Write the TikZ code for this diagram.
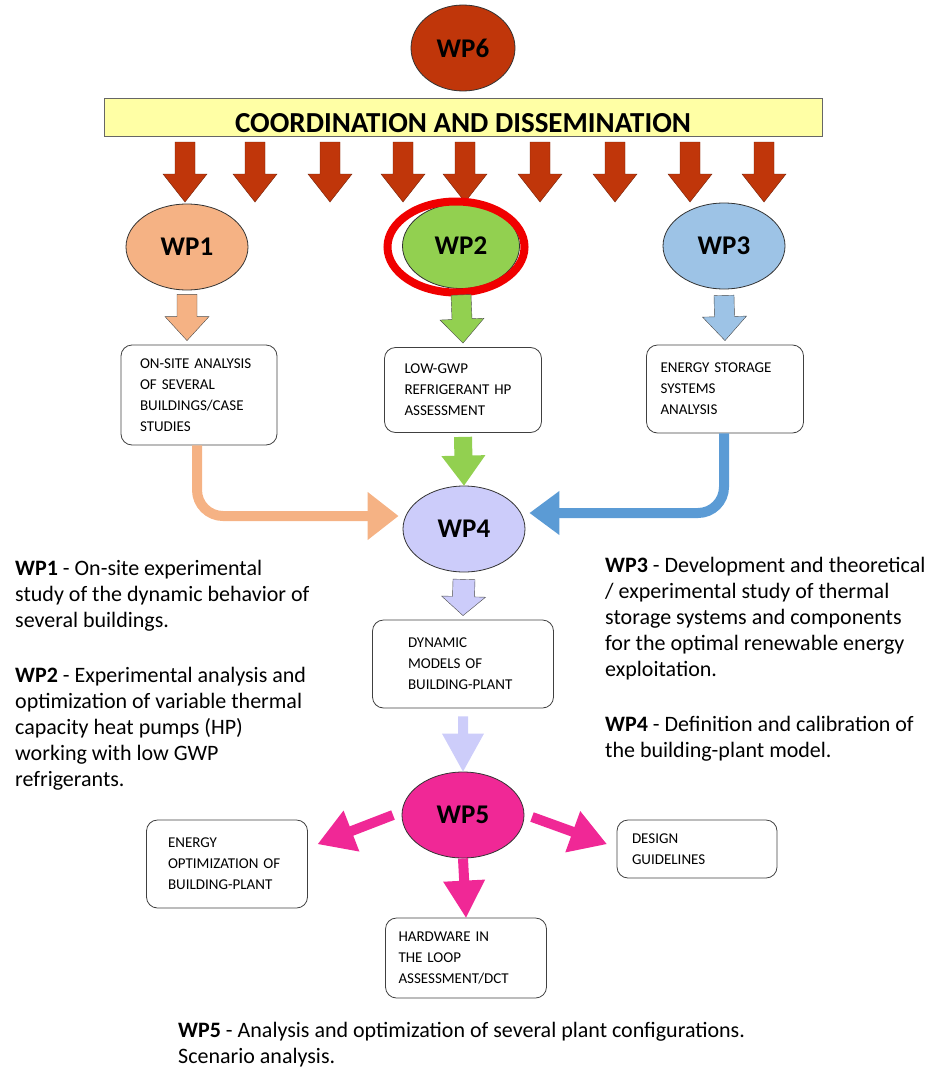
\documentclass[tikz,border=0pt]{standalone}
\usepackage{fontspec}
\setmainfont{Carlito}
\usetikzlibrary{positioning,arrows.meta,calc,shapes.geometric}
\definecolor{cWPsix}{RGB}{192,54,10}
\definecolor{cBar}{RGB}{255,255,165}
\definecolor{cWPone}{RGB}{245,178,132}
\definecolor{cWPtwo}{RGB}{146,208,80}
\definecolor{cWPthree}{RGB}{157,195,230}
\definecolor{cWPfour}{RGB}{204,204,250}
\definecolor{cWPfive}{RGB}{240,40,150}
\definecolor{cRing}{RGB}{240,0,0}
\definecolor{cBlue}{RGB}{91,155,213}
\definecolor{cFade}{RGB}{205,205,250}
% block arrow: [style]{from}{to}{shaft half width}{head half width}{head length}
\newcommand{\blockarr}[6][]{%
  \path[#1] ($(#2)!#4!90:(#3)$) -- ($(#3)!#6!(#2)!#4!90:(#3)$)
    -- ($(#3)!#6!(#2)!#5!90:(#3)$) -- (#3)
    -- ($(#3)!#6!(#2)!#5!-90:(#3)$) -- ($(#3)!#6!(#2)!#4!-90:(#3)$)
    -- ($(#2)!#4!-90:(#3)$) -- cycle;}

\begin{document}
\begin{tikzpicture}[x=1pt,y=-1pt,
   wp/.style={ellipse,draw=black!80,thick,inner sep=0pt,minimum width=122pt,minimum height=86pt,
     font=\fontsize{27}{30}\selectfont\bfseries},
   box/.style={draw=black!75,thick,rounded corners=11pt,align=left,inner ysep=0pt,
     font=\fontsize{15}{21}\selectfont},
   desc/.style={anchor=north west,align=left,inner sep=0pt,font=\fontsize{22}{26}\selectfont},
   curvarr/.style={line width=10pt,rounded corners=26pt}]
 \useasboundingbox (0,0) rectangle (928,1070);
 % top: coordination
 \node[wp,fill=cWPsix,minimum width=104pt,minimum height=86pt] (wp6) at (463,48) {WP6};
 \node[draw=black!60,fill=cBar,minimum width=718pt,minimum height=38pt,inner sep=0pt] (bar) at (463,117) {};
 \node[font=\fontsize{29}{30}\selectfont\bfseries,inner sep=0pt] (bartitle) at (463,123) {COORDINATION AND DISSEMINATION};
 \foreach \x [count=\k] in {185,255,330,403,465,540,615,690,764} {
   \coordinate (rt\k) at (\x,142);
   \coordinate (rb\k) at (\x,202);
   \blockarr[fill=cWPsix,draw=black!40!cWPsix]{rt\k}{rb\k}{10pt}{22pt}{28pt}
 }
 % work packages 1-3
 \node[wp,fill=cWPone] (wp1) at (187,247) {WP1};
 \node[wp,fill=cWPtwo,minimum width=117pt,minimum height=85pt] (wp2) at (461,246) {WP2};
 \node[ellipse,draw=cRing,line width=8pt,minimum width=137pt,minimum height=91pt] (ring) at (456,247) {};
 \node[wp,fill=cWPthree] (wp3) at (724,246) {WP3};
 \node[box,text width=118pt,inner xsep=19pt,minimum height=100pt] (b1) at (199,395)
   {ON-SITE ANALYSIS\\OF SEVERAL\\BUILDINGS/CASE\\STUDIES};
 \node[box,text width=117pt,inner xsep=20pt,minimum height=85pt] (b2) at (463,390)
   {LOW-GWP\\REFRIGERANT HP\\ASSESSMENT};
 \node[box,text width=129pt,inner xsep=14pt,minimum height=88pt] (b3) at (725,389)
   {ENERGY STORAGE\\SYSTEMS\\ANALYSIS};
 \blockarr[fill=cWPone,draw=black!70]{$(wp1.south)+(0,4)$}{$(b1.north)+(-12,-4)$}{10pt}{22pt}{24pt}
 \blockarr[fill=cWPtwo,draw=black!70]{$(wp2.south)+(0,6)$}{$(b2.north)+(0,-4)$}{10pt}{22pt}{24pt}
 \blockarr[fill=cWPthree,draw=black!70]{$(wp3.south)+(0,6)$}{$(b3.north)+(0,-4)$}{10pt}{22pt}{24pt}
 % work package 4
 \node[wp,fill=cWPfour] (wp4) at (464,529) {WP4};
 \blockarr[fill=cWPtwo]{$(b2.south)+(0,4)$}{wp4.north}{9pt}{22pt}{30pt}
 \draw[curvarr,cWPone,-{Triangle[width=46pt,length=31pt]}] ([xshift=-2pt]b1.south) |- ([yshift=13pt,xshift=-4pt]wp4.west);
 \draw[curvarr,cBlue,-{Triangle[width=42pt,length=30pt]}] ([xshift=-1pt]b3.south) |- ([yshift=16pt,xshift=4pt]wp4.east);
 \node[box,text width=110pt,inner xsep=35.5pt,minimum height=88pt] (b4) at (463,664)
   {DYNAMIC\\MODELS OF\\BUILDING-PLANT};
 \blockarr[fill=cWPfour,draw=black!70]{$(wp4.south)+(0,7)$}{$(b4.north)+(0,-4)$}{11pt}{22pt}{19pt}
 % work package 5
 \node[wp,fill=cWPfive] (wp5) at (463,815) {WP5};
 \blockarr[fill=cFade]{$(b4.south)+(0,8)$}{wp5.north}{5pt}{21pt}{38pt}
 \node[box,text width=118pt,inner xsep=21.5pt,minimum height=88pt] (b5) at (227,864)
   {ENERGY\\OPTIMIZATION OF\\BUILDING-PLANT};
 \node[box,text width=130pt,inner xsep=15pt,minimum height=58pt] (b6) at (697,849)
   {DESIGN\\GUIDELINES};
 \node[box,text width=135pt,inner xsep=13pt,minimum height=80pt] (b7) at (466,958)
   {HARDWARE IN\\THE LOOP\\ASSESSMENT/DCT};
 \coordinate (pl) at (393,815);
 \coordinate (pr) at (532,817);
 \blockarr[fill=cWPfive]{pl}{$(b5.east)+(10,-20)$}{5pt}{22pt}{36pt}
 \blockarr[fill=cWPfive]{pr}{$(b6.west)+(-10,-5)$}{5pt}{22pt}{36pt}
 \blockarr[fill=cWPfive]{wp5.south}{b7.north}{5pt}{21pt}{37pt}
 % descriptions
 \node[desc] (d1) at (15,560) {\textbf{WP1} - On-site experimental\\study of the dynamic behavior of\\several buildings.};
 \node[desc] (d2) at (15,667) {\textbf{WP2} - Experimental analysis and\\optimization of variable thermal\\capacity heat pumps (HP)\\working with low GWP\\refrigerants.};
 \node[desc] (d3) at (605,557.5) {\textbf{WP3} - Development and theoretical\\/ experimental study of thermal\\storage systems and components\\for the optimal renewable energy\\exploitation.};
 \node[desc] (d4) at (605,716) {\textbf{WP4} - Definition and calibration of\\the building-plant model.};
 \node[desc] (d5) at (178,1022) {\textbf{WP5} - Analysis and optimization of several plant configurations.\\Scenario analysis.};
\end{tikzpicture}
\end{document}
